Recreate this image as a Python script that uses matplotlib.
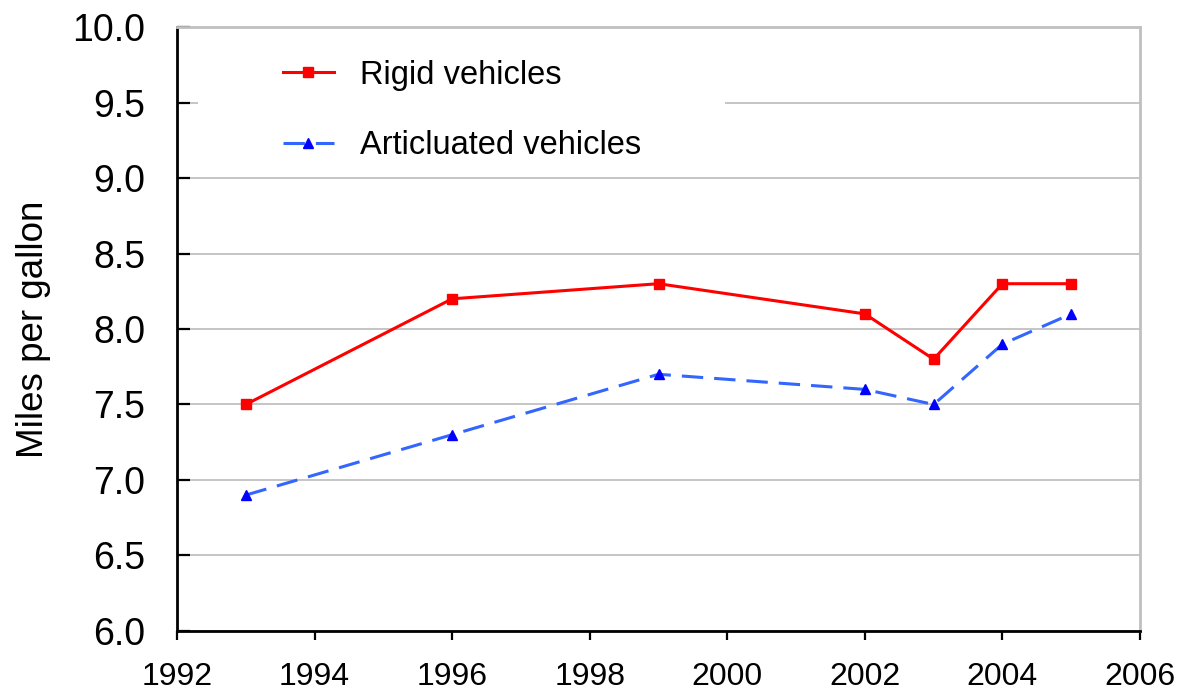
import matplotlib.pyplot as plt
from matplotlib import rcParams
from matplotlib.patches import Rectangle

rcParams['font.family'] = 'Liberation Sans'

years = [1993, 1996, 1999, 2002, 2003, 2004, 2005]
rigid = [7.5, 8.2, 8.3, 8.1, 7.8, 8.3, 8.3]
artic = [6.9, 7.3, 7.7, 7.6, 7.5, 7.9, 8.1]
xticks = [1992, 1994, 1996, 1998, 2000, 2002, 2004, 2006]
yticks = [6.0, 6.5, 7.0, 7.5, 8.0, 8.5, 9.0, 9.5, 10.0]

fig = plt.figure(figsize=(11.91, 6.93), dpi=100)
ax = fig.add_axes([0.1486, 0.0895, 0.8086, 0.8715])

ax.plot(years, rigid, '-', color='#ff0000', linewidth=2.2,
        marker='s', markersize=7, markerfacecolor='#ff0000', markeredgecolor='#ff0000',
        label='Rigid vehicles', zorder=3)
ax.plot(years, artic, color='#3366ff', linewidth=2.2, dashes=(7, 3.6),
        marker='^', markersize=7, markerfacecolor='#0000ff', markeredgecolor='#0000ff',
        label='Articluated vehicles', zorder=3)

ax.set_xlim(1992, 2006)
ax.set_ylim(6, 10)
ax.set_xticks(xticks)
ax.set_yticks(yticks)
ax.set_yticklabels(['%.1f' % v for v in yticks])
ax.yaxis.grid(True, color='#c0c0c0', linewidth=1.3)
ax.set_axisbelow(True)

for s in ['top', 'right']:
    ax.spines[s].set_color('#c0c0c0')
    ax.spines[s].set_linewidth(2)
for s in ['left', 'bottom']:
    ax.spines[s].set_color('black')
    ax.spines[s].set_linewidth(2)

ax.tick_params(axis='y', direction='in', length=9.5, width=1.6, labelsize=27, pad=23)
ax.tick_params(axis='x', direction='out', length=6.5, width=1.6, labelsize=23, pad=16)
ax.set_ylabel('Miles per gallon', fontsize=26.5, labelpad=15.5)

# white legend area that hides part of the grid
ax.add_patch(Rectangle((0.022, 0.772), 0.547, 0.206, transform=ax.transAxes,
                       facecolor='white', edgecolor='none', zorder=1.5))

leg = ax.legend(loc='center left', bbox_to_anchor=(0.110, 0.8617), frameon=False,
                fontsize=23.5, handlelength=1.56, handletextpad=0.8, labelspacing=1.21,
                borderpad=0, borderaxespad=0)

plt.savefig('out.png', dpi=100)
